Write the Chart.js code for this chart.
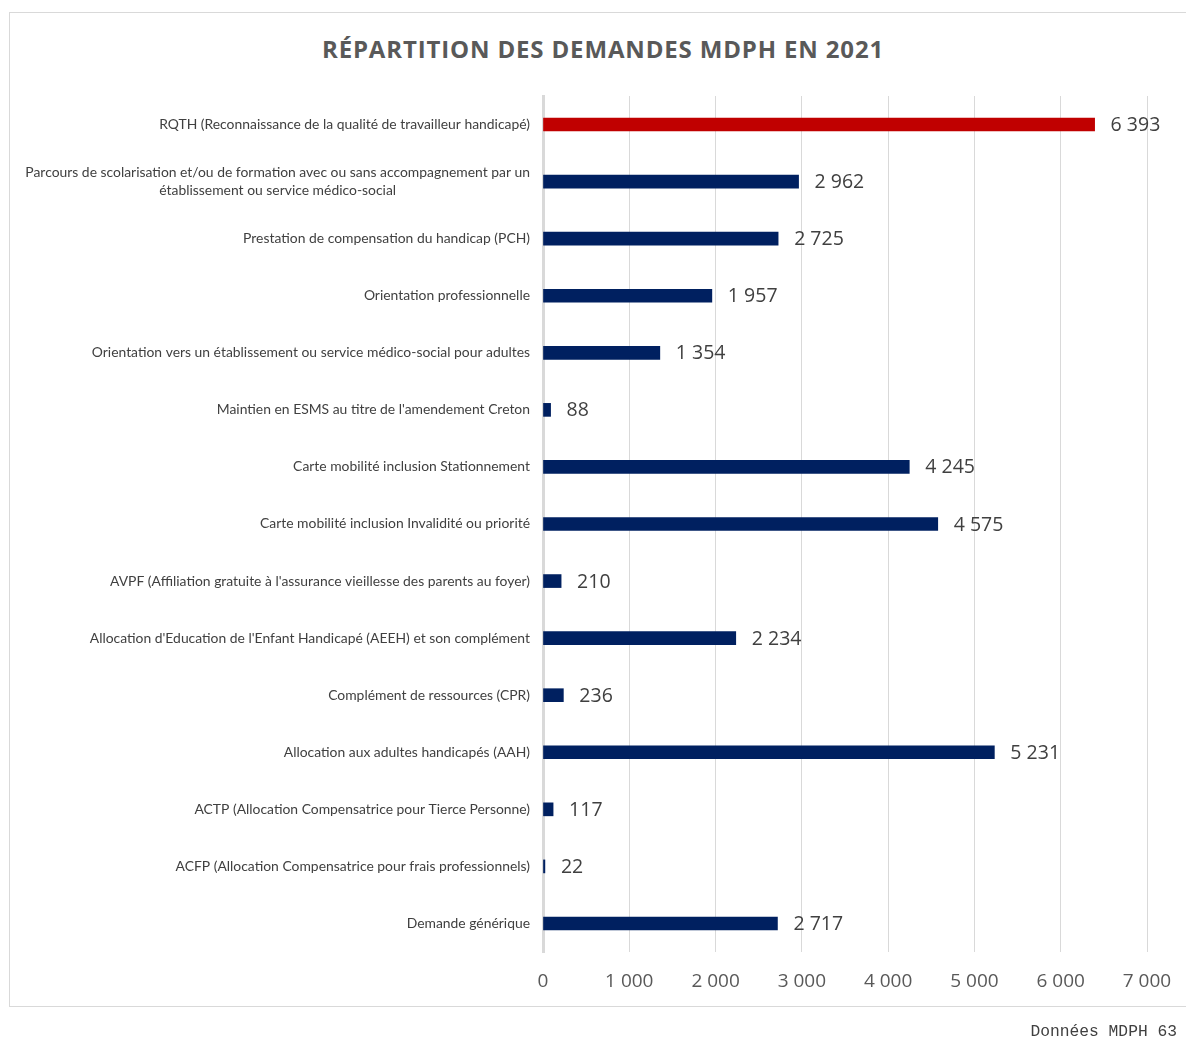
<!DOCTYPE html>
<html lang="fr">
<head>
<meta charset="utf-8">
<title>Répartition des demandes MDPH en 2021</title>
<script src="https://cdn.jsdelivr.net/npm/chart.js@4.4.1/dist/chart.umd.min.js"></script>
<style>
  html, body { margin: 0; padding: 0; background: #fff; }
  #page { position: relative; width: 1186px; height: 1037px; overflow: hidden; }
  #frame {
    position: absolute; left: 9px; top: 12px; width: 1190px; height: 995px;
    border: 1px solid #d9d9d9; box-sizing: border-box;
  }
  #titre {
    position: absolute; left: 9px; width: 1188px; top: 32px;
    text-align: center; font: bold 24px "Open Sans", sans-serif;
    letter-spacing: 0.85px; color: #595959;
  }
  #source {
    position: absolute; right: 9px; top: 1022px;
    font: 16.3px "Liberation Mono", monospace; color: #404040;
  }
  #chartCanvas { position: absolute; left: 0; top: 0; }
</style>
</head>
<body>
<div id="page">
  <div id="frame"></div>
  <div id="titre">RÉPARTITION DES DEMANDES MDPH EN 2021</div>
  <canvas id="chartCanvas" width="1186" height="1037"></canvas>
  <div id="source">Données MDPH 63</div>
</div>
<script>
const categories = [
  'RQTH (Reconnaissance de la qualité de travailleur handicapé)',
  ['Parcours de scolarisation et/ou de formation avec ou sans accompagnement par un', 'établissement ou service médico-social'],
  'Prestation de compensation du handicap (PCH)',
  'Orientation professionnelle',
  'Orientation vers un établissement ou service médico-social pour adultes',
  "Maintien en ESMS au titre de l'amendement Creton",
  'Carte mobilité inclusion Stationnement',
  'Carte mobilité inclusion Invalidité ou priorité',
  "AVPF (Affiliation gratuite à l'assurance vieillesse des parents au foyer)",
  "Allocation d'Education de l'Enfant Handicapé (AEEH) et son complément",
  'Complément de ressources (CPR)',
  'Allocation aux adultes handicapés (AAH)',
  'ACTP (Allocation Compensatrice pour Tierce Personne)',
  'ACFP (Allocation Compensatrice pour frais professionnels)',
  'Demande générique'
];
const demandes = [6393, 2962, 2725, 1957, 1354, 88, 4245, 4575, 210, 2234, 236, 5231, 117, 22, 2717];
const xMax = 7000;
const xStep = 1000;

const navy = '#002060';
const rouge = '#C00000';

// séparateur de milliers à la française
function fmt(n) {
  return String(n).replace(/\B(?=(\d{3})+(?!\d))/g, ' ');
}

// libellés de catégories : blocs multi-lignes centrés, alignés à droite sur l'axe
const categoryLabels = {
  id: 'categoryLabels',
  afterDraw(chart) {
    const ctx = chart.ctx;
    const yScale = chart.scales.y;
    const right = chart.chartArea.left - 13;
    ctx.save();
    ctx.font = '13.9px Lato, sans-serif';
    ctx.fillStyle = '#404040';
    ctx.textBaseline = 'middle';
    ctx.textAlign = 'center';
    categories.forEach((lab, i) => {
      const lines = Array.isArray(lab) ? lab : [lab];
      const w = Math.max(...lines.map(l => ctx.measureText(l).width));
      const cx = right - w / 2;
      const yc = yScale.getPixelForTick(i);
      const lh = 18;
      lines.forEach((l, k) => {
        ctx.fillText(l, cx, yc + (k - (lines.length - 1) / 2) * lh);
      });
    });
    ctx.restore();
  }
};

// valeurs affichées au bout des barres
const valueLabels = {
  id: 'valueLabels',
  afterDatasetsDraw(chart) {
    const ctx = chart.ctx;
    const meta = chart.getDatasetMeta(0);
    ctx.save();
    ctx.font = '19.5px "Open Sans", sans-serif';
    ctx.fillStyle = '#404040';
    ctx.textBaseline = 'middle';
    ctx.textAlign = 'left';
    meta.data.forEach((bar, i) => {
      ctx.fillText(fmt(demandes[i]), bar.x + 16, bar.y + 1);
    });
    ctx.restore();
  }
};

let chart;

function initChart() {
  const ctx = document.getElementById('chartCanvas').getContext('2d');
  chart = new Chart(ctx, {
    type: 'bar',
    data: {
      labels: categories,
      datasets: [{
        data: demandes,
        backgroundColor: demandes.map((v, i) => i === 0 ? rouge : navy),
        barThickness: 13,
        borderWidth: 0
      }]
    },
    plugins: [categoryLabels, valueLabels],
    options: {
      indexAxis: 'y',
      responsive: false,
      animation: false,
      layout: { padding: { left: 20, right: 39, top: 96, bottom: 40 } },
      plugins: {
        legend: { display: false },
        title: { display: false },
        tooltip: { enabled: false }
      },
      scales: {
        x: {
          min: 0,
          max: xMax,
          ticks: {
            stepSize: xStep,
            padding: 18,
            color: '#595959',
            font: { family: 'Open Sans', size: 19 },
            callback: v => fmt(v),
            maxRotation: 0
          },
          grid: { color: '#d9d9d9', lineWidth: 1, drawTicks: false },
          border: { display: false },
          afterFit(scale) {
            scale.height = 45;
            // les libellés débordent dans la marge, pas de réserve latérale
            scale.paddingLeft = 0;
            scale.paddingRight = 0;
          }
        },
        y: {
          ticks: { display: false },
          grid: { display: false, drawTicks: false },
          border: { display: true, color: '#d9d9d9', width: 3 },
          afterFit(scale) { scale.width = 523; }
        }
      }
    }
  });
}

document.addEventListener('DOMContentLoaded', initChart);
</script>
</body>
</html>
